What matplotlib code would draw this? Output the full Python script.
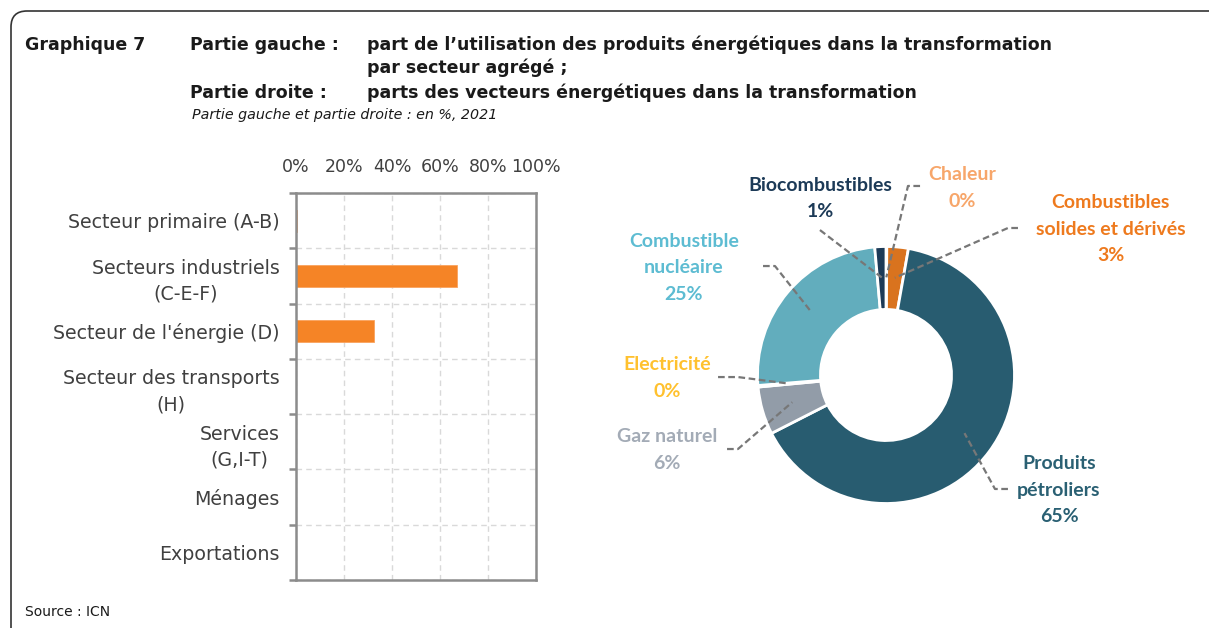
import numpy as np
import matplotlib
matplotlib.use('Agg')
import matplotlib.pyplot as plt
from matplotlib.patches import FancyBboxPatch

# Left panel: share of energy products used in transformation, by sector (%)
sectors = ['Secteur primaire (A-B)', 'Secteurs industriels\n(C-E-F)',
           "Secteur de l'énergie (D)", 'Secteur des transports\n(H)',
           'Services\n(G,I-T)', 'Ménages', 'Exportations']
sector_share = [0.3, 66.9, 32.4, 0.0, 0.0, 0.0, 0.0]
x_ticks = [0, 20, 40, 60, 80, 100]

# Right panel: energy carriers in transformation (%), clockwise from 12 o'clock
carriers = ['Chaleur', 'Combustibles\nsolides et dérivés', 'Produits\npétroliers',
            'Gaz naturel', 'Electricité', 'Combustible\nnucléaire', 'Biocombustibles']
carrier_share = [0.1, 2.7, 64.7, 6.0, 0.2, 24.9, 1.4]
carrier_labels = ['0%', '3%', '65%', '6%', '0%', '25%', '1%']
slice_colors = ['#F8B47C', '#D9731E', '#285C70', '#929CA8', '#FFC13B', '#62ADBD', '#1C3A57']
text_colors = ['#F7A66A', '#EE7A1E', '#2A6073', '#A3ABB6', '#FFC12E', '#5DBCD2', '#1C3A57']
# label placement (donut units, radius = 1) and leader-line elbows
label_pos = [(0.59, 1.455), (1.75, 1.136), (1.346, -0.895), (-1.704, -0.584),
             (-1.704, -0.023), (-1.572, 0.833), (-0.514, 1.377)]
leader_start = [(0.265, 1.471), (1.027, 1.144), (0.949, -0.887), (-1.237, -0.576),
                (-1.307, -0.016), (-0.957, 0.848), (-0.514, 1.128)]
leader_elbow = [(0.171, 1.471), (0.949, 1.144), (0.848, -0.887), (-1.152, -0.576),
                (-1.152, -0.016), (-0.864, 0.848), (-0.514, 1.128)]

W, H = 1209, 628
fig = plt.figure(figsize=(W / 100, H / 100), dpi=100)
fig.patch.set_facecolor('white')

# rounded frame
r = 16 / W
frame = FancyBboxPatch((11 / W, -0.2), 1.2, 1 - 11 / H + 0.2,
                       boxstyle=f'round,pad=0,rounding_size={r}',
                       mutation_aspect=W / H, transform=fig.transFigure,
                       fill=False, edgecolor='#333333', linewidth=1.2)
fig.patches.append(frame)

# titles
tc = '#1a1a1a'
ts = 12.5
fig.text(25 / W, 1 - 45 / H, 'Graphique 7', fontsize=ts, fontweight='bold', color=tc, va='center')
fig.text(190 / W, 1 - 45 / H, 'Partie gauche :', fontsize=ts, fontweight='bold', color=tc, va='center')
fig.text(367 / W, 1 - 45 / H,
         'part de l’utilisation des produits énergétiques dans la transformation',
         fontsize=ts, fontweight='bold', color=tc, va='center')
fig.text(367 / W, 1 - 68 / H, 'par secteur agrégé ;', fontsize=ts, fontweight='bold',
         color=tc, va='center')
fig.text(190 / W, 1 - 93 / H, 'Partie droite :', fontsize=ts, fontweight='bold', color=tc, va='center')
fig.text(367 / W, 1 - 93 / H, 'parts des vecteurs énergétiques dans la transformation',
         fontsize=ts, fontweight='bold', color=tc, va='center')
fig.text(192 / W, 1 - 115 / H, 'Partie gauche et partie droite : en %, 2021',
         fontsize=10.3, style='italic', color=tc, va='center')
fig.text(25 / W, 1 - 612 / H, 'Source : ICN', fontsize=10, color=tc, va='center')

# left bar chart
ax = fig.add_axes([296 / W, 1 - 580 / H, 240 / W, 387 / H])
y = np.arange(len(sectors))
ax.barh(y, sector_share, height=0.4, color='#F58426', edgecolor='#F9A35E', linewidth=0.6)
ax.set_xlim(0, 100)
ax.set_ylim(len(sectors) - 0.5, -0.5)
ax.xaxis.tick_top()
ax.set_xticks(x_ticks)
ax.set_xticklabels([f'{v}%' for v in x_ticks])
ax.tick_params(axis='x', length=0, pad=12, labelsize=12.5, labelcolor='#404040')
ax.set_yticks(y)
ax.set_yticklabels(sectors, multialignment='center', linespacing=1.45)
ax.tick_params(axis='y', which='major', length=0, pad=12, labelsize=13.7, labelcolor='#404040')
ax.set_yticks(np.arange(-0.5, len(sectors)), minor=True)
ax.tick_params(axis='y', which='minor', length=5, width=1.8, color='#8c8c8c', direction='out')
ax.grid(axis='x', color='#d9d9d9', linestyle=(0, (4, 3)), linewidth=1)
ax.grid(axis='y', which='minor', color='#d9d9d9', linestyle=(0, (4, 3)), linewidth=1)
ax.set_axisbelow(True)
for sp in ax.spines.values():
    sp.set_color('#8c8c8c')
    sp.set_linewidth(1.8)

# right donut chart
cx, cy, R = 886, 375, 128.5
dx0, dx1, dy0, dy1 = 600, 1205, 140, 545
ax2 = fig.add_axes([dx0 / W, 1 - dy1 / H, (dx1 - dx0) / W, (dy1 - dy0) / H])
wedges, _ = ax2.pie(carrier_share, colors=slice_colors, startangle=90, counterclock=False,
                    radius=1, wedgeprops=dict(width=0.49, edgecolor='white', linewidth=2))
ax2.set_xlim((dx0 - cx) / R, (dx1 - cx) / R)
ax2.set_ylim((cy - dy1) / R, (cy - dy0) / R)
ax2.set_aspect('equal', adjustable='box')
ax2.axis('off')

for i, w in enumerate(wedges):
    mid = np.deg2rad((w.theta1 + w.theta2) / 2)
    anchor = (0.76 * np.cos(mid), 0.76 * np.sin(mid))
    xs = [leader_start[i][0], leader_elbow[i][0], anchor[0]]
    ys = [leader_start[i][1], leader_elbow[i][1], anchor[1]]
    ax2.plot(xs, ys, color='#777777', linestyle=(0, (3, 1.6)), linewidth=1.6)
    ax2.text(label_pos[i][0], label_pos[i][1], carriers[i] + '\n' + carrier_labels[i],
             ha='center', va='center', fontsize=14, fontweight='bold',
             family='Lato', color=text_colors[i], linespacing=1.65)

fig.savefig('out.png', dpi=100)
